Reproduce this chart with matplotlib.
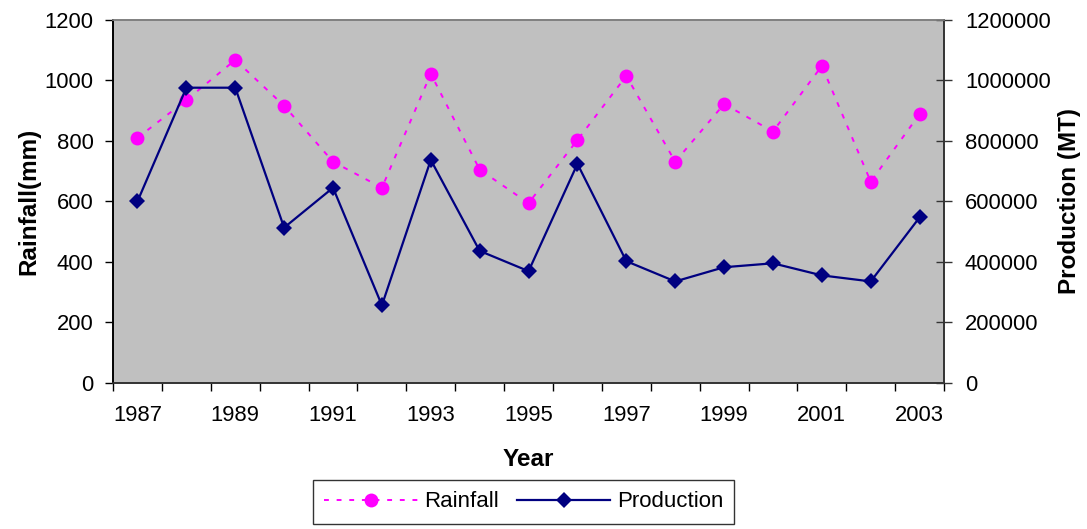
import numpy as np
import matplotlib.pyplot as plt

plt.rcParams['font.family'] = ['Liberation Sans', 'DejaVu Sans']

years = list(range(1987, 2004))
rainfall = [810, 935, 1068, 916, 731, 645, 1022, 705, 594, 803, 1015, 731, 922, 831, 1048, 665, 889]
production = [600000, 976000, 976000, 513000, 645000, 256000, 737000, 436000, 369000,
              724000, 402000, 335000, 382000, 395000, 355000, 335000, 547000]
year_labels = [str(y) if (y - 1987) % 2 == 0 else '' for y in years]

fig = plt.figure(figsize=(10.87, 5.29), dpi=100)
ax = fig.add_axes([0.104, 0.2766, 0.7645, 0.6856])
ax2 = ax.twinx()

x = np.arange(len(years))
r_line, = ax.plot(x, rainfall, color='#FF00FF', linestyle=(0, (2.5, 4)), linewidth=1.4,
                  marker='o', markersize=10, markeredgewidth=0, label='Rainfall', zorder=3)
p_line, = ax2.plot(x, production, color='#000080', linewidth=1.6,
                   marker='D', markersize=8, markeredgewidth=0, label='Production', zorder=3)
ax.set_zorder(1)
ax2.set_zorder(2)
ax2.patch.set_visible(False)
ax.set_facecolor('#C0C0C0')

ax.set_xlim(-0.5, len(years) - 0.5)
ax.set_ylim(0, 1200)
ax2.set_ylim(0, 1200000)
ax.set_yticks(range(0, 1201, 200))
ax2.set_yticks(range(0, 1200001, 200000))
ax2.set_yticklabels([str(v) for v in range(0, 1200001, 200000)])

# ticks between categories, labels at the category centres
ax.set_xticks(np.arange(-0.5, len(years), 1.0))
ax.set_xticklabels([])
ax.set_xticks(x, minor=True)
ax.set_xticklabels(year_labels, minor=True)
ax.tick_params(axis='x', which='minor', length=0, pad=16, labelsize=15.8)
ax.tick_params(axis='x', which='major', direction='out', length=6, width=1, color='black')
ax.tick_params(axis='y', direction='out', length=6, width=1, labelsize=15.8, pad=8)
ax2.tick_params(axis='y', direction='inout', length=12, width=1, labelsize=15.8, pad=9,
                color='#333333')

for a in (ax, ax2):
    a.spines['top'].set_color('#808080')
    a.spines['top'].set_linewidth(1.2)
    a.spines['left'].set_color('black')
    a.spines['left'].set_linewidth(1.2)
    a.spines['bottom'].set_color('#333333')
    a.spines['bottom'].set_linewidth(1.2)
    a.spines['right'].set_color('#333333')
    a.spines['right'].set_linewidth(1.2)

ax.set_ylabel('Rainfall(mm)', fontsize=17.5, fontweight='bold', labelpad=3)
ax2.set_ylabel('Production (MT)', fontsize=17.5, fontweight='bold', labelpad=5)
ax.set_xlabel('Year', fontsize=17.5, fontweight='bold', labelpad=16)

leg = fig.legend([r_line, p_line], ['Rainfall', 'Production'], loc='upper center',
                 bbox_to_anchor=(0.482, 0.113), ncol=2, fontsize=16, frameon=True,
                 fancybox=False, edgecolor='black', handlelength=4.2, handletextpad=0.3,
                 columnspacing=0.8, borderpad=0.5)
leg.get_frame().set_linewidth(1.0)

fig.savefig('out.png', dpi=100)
